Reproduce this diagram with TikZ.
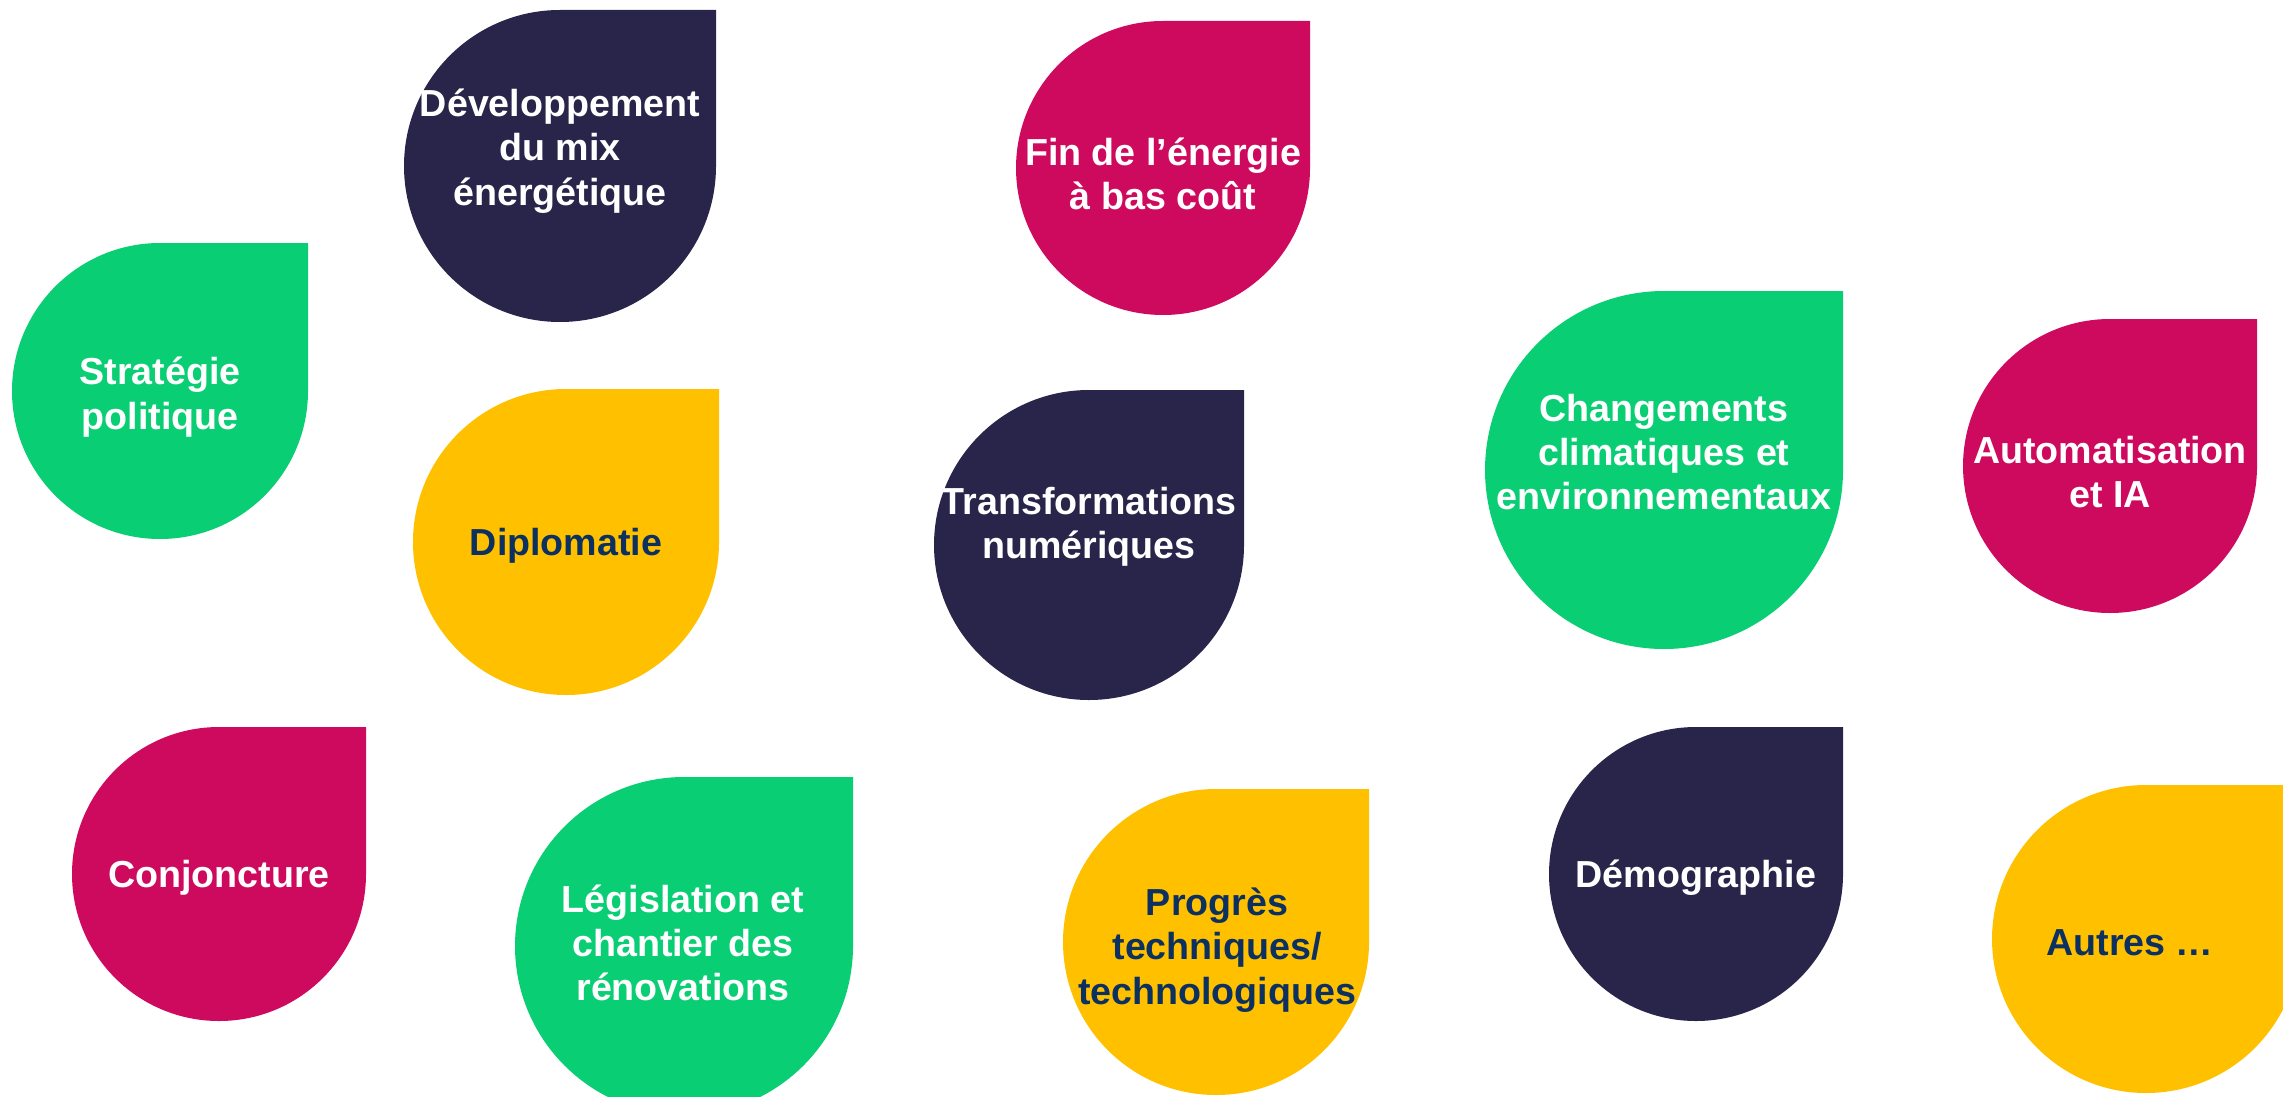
\documentclass[tikz,border=0pt]{standalone}
\usepackage{fontspec}
\setmainfont{Liberation Sans}
\usepackage{xcolor}
\usepackage{tikz}

\definecolor{navy}{HTML}{29244A}
\definecolor{berry}{HTML}{CE0A5F}
\definecolor{leaf}{HTML}{0ACE74}
\definecolor{sun}{HTML}{FFC000}
\definecolor{ink}{HTML}{0C3161}

\begin{document}
\begin{tikzpicture}[
    x=0.01cm, y=0.01cm,
    lbl/.style={align=center, inner sep=0pt, text=white, font=\bfseries\fontsize{10.7}{12.6}\selectfont},
    lbldark/.style={lbl, text=ink},
]
\useasboundingbox (0,0) rectangle (2283,1096);
\clip (0,0) rectangle (2283,1096);

% drops: centre x / centre y / radius / colour
\foreach \cx/\cy/\r/\col in {560/930/156/navy, 1163/928/147/berry, 160/705/148/leaf,
    566/554/153/sun, 1089/551/155/navy, 1664/626/179/leaf, 2110/630/147/berry,
    219/222/147/berry, 684/150/169/leaf, 1216/154/153/sun, 1696/222/147/navy,
    2146/157/154/sun}
  \fill[\col] ({\cx+\r},{\cy+\r}) -- ({\cx+\r},\cy) arc[start angle=0, end angle=-270, radius=\r] -- cycle;

\node[lbl] (mix) at (560,945) {Développement\\du mix\\énergétique};
\node[lbl] (fin) at (1163,922) {Fin de l’énergie\\à bas coût};
\node[lbl] (strat) at (160,699) {Stratégie\\politique};
\node[lbldark] (diplo) at (566,550) {Diplomatie};
\node[lbl] (num) at (1089,569) {Transformations\\numériques};
\node[lbl] (clim) at (1664,644) {Changements\\climatiques et\\environnementaux};
\node[lbl] (auto) at (2110,624) {Automatisation\\et IA};
\node[lbl] (conj) at (219,218) {Conjoncture};
\node[lbl] (legis) at (683,153) {Législation et\\chantier des\\rénovations};
\node[lbldark] (prog) at (1217,146) {Progrès\\techniques/\\technologiques};
\node[lbl] (demo) at (1696,218) {Démographie};
\node[lbldark] (autres) at (2130,153) {Autres …};

\end{tikzpicture}
\end{document}
